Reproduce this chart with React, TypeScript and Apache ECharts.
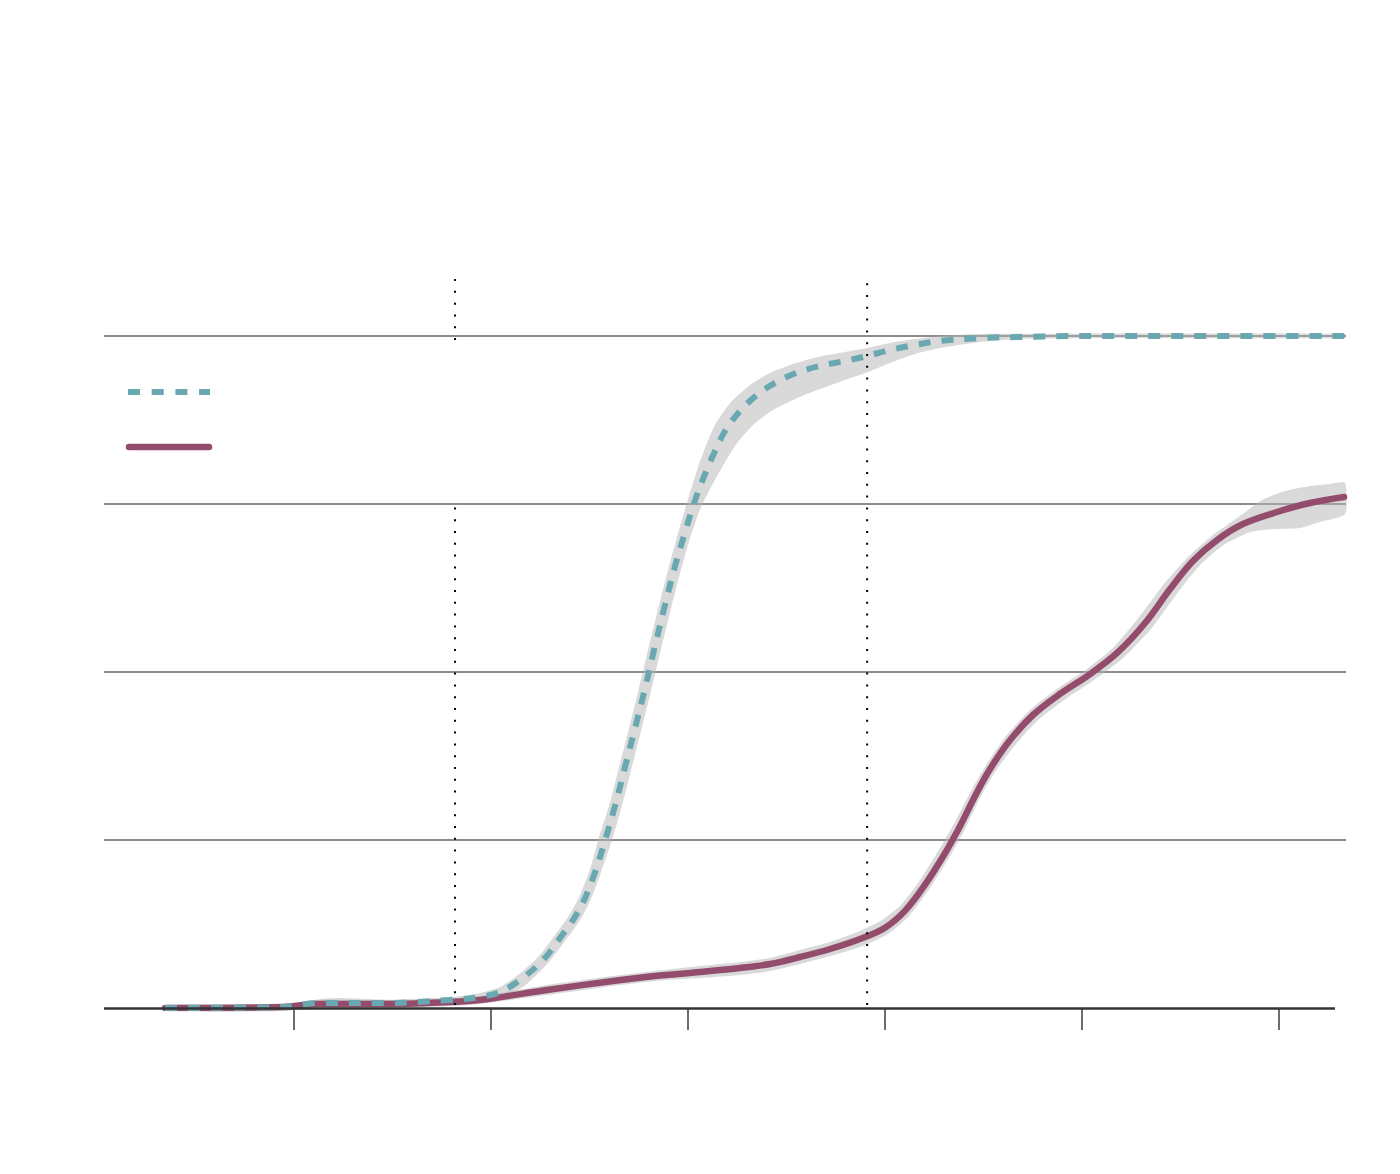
import React, { useEffect, useRef } from "react";
import * as echarts from "echarts";

// ---- data (x in axis units, tick every 1 unit; y in percent) ----
const tickValues = [1, 2, 3, 4, 5, 6];
const yGrid = [0, 25, 50, 75, 100];

const tealLine: number[][] = [
  [0.345, 0], [0.944, 0.15], [1.117, 0.74], [1.452, 0.74], [1.792, 1.19], [1.944, 1.64],
  [2.046, 2.38], [2.147, 4.17], [2.264, 7.14], [2.365, 11.01], [2.426, 13.54], [2.477, 16.37],
  [2.528, 20.24], [2.579, 25.0], [2.629, 30.06], [2.68, 35.86], [2.731, 41.67], [2.782, 47.62],
  [2.832, 53.87], [2.883, 59.97], [2.934, 65.77], [2.985, 70.83], [3.036, 75.6], [3.086, 79.46],
  [3.137, 82.89], [3.188, 85.86], [3.264, 88.84], [3.35, 91.22], [3.442, 93.01], [3.548, 94.49],
  [3.67, 95.54], [3.797, 96.28], [3.909, 97.02], [4.025, 97.92], [4.152, 98.66], [4.279, 99.26],
  [4.482, 99.7], [4.685, 99.85], [4.99, 100], [6.335, 100],
];

const purpleLine: number[][] = [
  [0.345, 0], [0.944, 0.15], [1.117, 0.6], [1.452, 0.6], [1.792, 0.89], [1.944, 1.19],
  [2.284, 2.68], [2.619, 4.02], [2.832, 4.76], [3.061, 5.36], [3.264, 5.95], [3.416, 6.55],
  [3.569, 7.59], [3.721, 8.78], [3.873, 10.27], [4.0, 11.96], [4.102, 14.49], [4.203, 18.35],
  [4.305, 23.07], [4.381, 27.08], [4.457, 31.55], [4.533, 35.57], [4.635, 39.88], [4.751, 43.6],
  [4.888, 46.73], [5.041, 49.7], [5.178, 52.83], [5.32, 57.29], [5.447, 62.35], [5.563, 66.52],
  [5.685, 69.64], [5.817, 72.02], [5.99, 73.81], [6.157, 75.15], [6.33, 76.04],
];

const tealBandUpper: number[][] = [
  [0.345, 0.45], [0.98, 0.6], [1.132, 1.34], [1.234, 1.49], [1.538, 1.19], [1.817, 1.64],
  [1.944, 2.23], [2.046, 3.13], [2.137, 4.91], [2.239, 7.59], [2.34, 11.46], [2.401, 13.99],
  [2.452, 16.82], [2.503, 20.68], [2.548, 25.45], [2.599, 30.06], [2.65, 35.86], [2.701, 41.67],
  [2.751, 47.62], [2.802, 53.87], [2.853, 59.97], [2.904, 65.77], [2.954, 71.13], [3.005, 76.19],
  [3.051, 80.51], [3.096, 84.08], [3.142, 87.05], [3.218, 90.18], [3.315, 92.71], [3.416, 94.49],
  [3.533, 95.83], [3.66, 96.88], [3.797, 97.62], [3.909, 98.21], [4.025, 98.96], [4.152, 99.55],
  [4.279, 100.0], [4.482, 100.3], [6.335, 100.3],
];

const tealBandLower: number[][] = [
  [0.345, -0.3], [0.98, -0.3], [1.538, 0.3], [1.817, 0.6], [1.944, 0.89], [2.046, 1.49],
  [2.168, 3.27], [2.289, 6.7], [2.391, 10.57], [2.452, 13.1], [2.503, 15.92], [2.553, 19.79],
  [2.609, 24.55], [2.66, 29.61], [2.711, 35.42], [2.761, 41.22], [2.812, 47.17], [2.863, 53.42],
  [2.914, 59.52], [2.965, 65.33], [3.015, 70.39], [3.066, 74.6], [3.127, 78.1], [3.188, 81.25],
  [3.249, 84.08], [3.335, 86.9], [3.431, 88.99], [3.543, 90.63], [3.67, 92.11], [3.797, 93.45],
  [3.909, 94.6], [4.025, 96.0], [4.152, 97.32], [4.279, 98.21], [4.482, 99.11], [4.685, 99.55],
  [5.091, 99.7], [6.335, 99.7],
];

const purpleBandUpper: number[][] = [
  [0.345, 0.45], [0.944, 0.45], [1.117, 1.19], [1.452, 1.19], [1.792, 1.49], [1.944, 1.79],
  [2.284, 3.42], [2.619, 4.76], [2.832, 5.51], [3.061, 6.25], [3.264, 6.85], [3.416, 7.44],
  [3.569, 8.63], [3.721, 9.82], [3.873, 11.46], [3.985, 13.1], [4.081, 15.33], [4.178, 19.05],
  [4.279, 23.81], [4.355, 27.68], [4.431, 31.99], [4.513, 36.16], [4.614, 40.48], [4.736, 44.35],
  [4.873, 47.47], [5.025, 50.45], [5.157, 53.57], [5.294, 58.33], [5.416, 63.1], [5.538, 67.11],
  [5.665, 70.39], [5.802, 73.21], [5.914, 75.6], [6.03, 76.93], [6.157, 77.68], [6.259, 77.98],
  [6.335, 78.13],
];

const purpleBandLower: number[][] = [
  [0.345, -0.45], [0.944, -0.45], [1.117, 0], [1.452, 0], [1.792, 0.3], [1.944, 0.6],
  [2.284, 1.93], [2.619, 3.27], [2.832, 4.02], [3.061, 4.46], [3.264, 4.91], [3.416, 5.51],
  [3.569, 6.55], [3.721, 7.74], [3.873, 9.08], [4.015, 11.01], [4.122, 13.69], [4.228, 17.86],
  [4.33, 22.62], [4.406, 26.64], [4.482, 31.25], [4.558, 35.12], [4.66, 39.14], [4.772, 42.71],
  [4.909, 45.83], [5.061, 48.81], [5.203, 51.93], [5.35, 56.4], [5.477, 61.46], [5.594, 65.77],
  [5.711, 68.75], [5.853, 70.83], [5.98, 71.28], [6.107, 71.43], [6.208, 72.32], [6.335, 73.51],
];

// vertical dotted reference lines: [x, yFrom, yTo]
const eventSegments: number[][] = [
  [1.817, 0.45, 75.3],
  [1.817, 99.4, 108.8],
  [3.909, 0.45, 108.2],
];

const baselineRange = [0.035, 6.284];

const TEAL = "#6aa8b1";
const PURPLE = "#944c6d";
const BAND = "rgba(180,180,180,0.5)";
const GRID = "#8c8c8c";

export default function App() {
  const ref = useRef<HTMLDivElement>(null);

  useEffect(() => {
    if (!ref.current) return;
    const chart = echarts.init(ref.current, null, { renderer: "svg" });

    const bandSeries = (upper: number[][], lower: number[][]) => ({
      type: "custom",
      silent: true,
      clip: false,
      data: [[upper[0][0], upper[0][1]]],
      renderItem: (_params: any, api: any) => {
        const pts = upper
          .map((p) => api.coord(p))
          .concat(lower.slice().reverse().map((p) => api.coord(p)));
        return {
          type: "polygon",
          shape: { points: pts, smooth: 0.2 },
          style: { fill: BAND, stroke: null },
        };
      },
    });

    const option: any = {
      animation: false,
      backgroundColor: "#ffffff",
      grid: { left: 104, right: 54, top: 336, bottom: 166 },
      xAxis: {
        type: "value",
        min: 0.035,
        max: 6.34,
        axisLine: { show: false },
        axisTick: {
          show: true,
          customValues: tickValues,
          length: 22,
          lineStyle: { color: "#3c3c3c", width: 1.5 },
        },
        axisLabel: { show: false },
        splitLine: { show: false },
      },
      yAxis: {
        type: "value",
        min: yGrid[0],
        max: yGrid[yGrid.length - 1],
        interval: 25,
        axisLine: { show: false },
        axisTick: { show: false },
        axisLabel: { show: false },
        splitLine: {
          show: true,
          lineStyle: { color: ["rgba(0,0,0,0)", GRID, GRID, GRID, GRID], width: 2 },
        },
      },
      series: [
        bandSeries(purpleBandUpper, purpleBandLower),
        bandSeries(tealBandUpper, tealBandLower),
        {
          type: "line",
          data: purpleLine,
          showSymbol: false,
          smooth: 0.35,
          silent: true,
          lineStyle: { color: PURPLE, width: 6.5, cap: "round" },
          markLine: {
            silent: true,
            symbol: "none",
            label: { show: false },
            lineStyle: { color: "#333333", width: 2.5, type: "solid" },
            data: [[{ coord: [baselineRange[0], 0] }, { coord: [baselineRange[1], 0] }]],
          },
          z: 3,
        },
        {
          type: "line",
          data: tealLine,
          showSymbol: false,
          smooth: 0.35,
          silent: true,
          lineStyle: { color: TEAL, width: 6, type: [12, 11], cap: "butt" },
          z: 4,
        },
        {
          type: "custom",
          silent: true,
          clip: false,
          z: 5,
          data: eventSegments,
          encode: { x: 0, y: [1, 2] },
          renderItem: (_params: any, api: any) => {
            const p0 = api.coord([api.value(0), api.value(1)]);
            const p1 = api.coord([api.value(0), api.value(2)]);
            return {
              type: "line",
              shape: { x1: p0[0], y1: p0[1], x2: p1[0], y2: p1[1] },
              style: { stroke: "#000000", lineWidth: 2, lineDash: [2, 9.8] },
            };
          },
        },
      ],
      graphic: [
        {
          type: "line",
          shape: { x1: 128, y1: 392, x2: 210, y2: 392 },
          style: { stroke: TEAL, lineWidth: 6, lineDash: [12, 11.7], lineCap: "butt" },
        },
        {
          type: "line",
          shape: { x1: 129, y1: 447, x2: 209, y2: 447 },
          style: { stroke: PURPLE, lineWidth: 6.5, lineCap: "round" },
        },
      ],
    };

    chart.setOption(option);
    return () => chart.dispose();
  }, []);

  return (
    <div
      ref={ref}
      style={{ position: "absolute", left: 0, top: 0, width: 1400, height: 1174, background: "#ffffff" }}
    />
  );
}
